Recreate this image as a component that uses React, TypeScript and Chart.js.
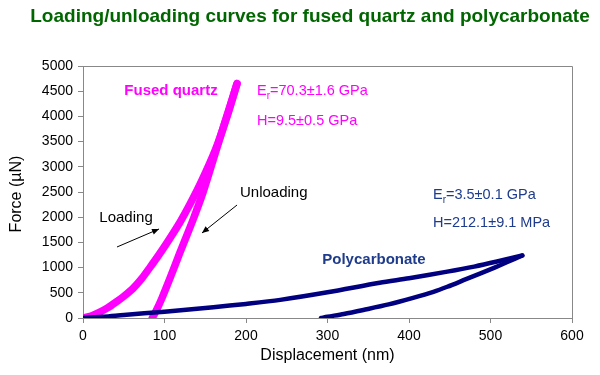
import React, { useEffect, useRef } from "react";
import { Chart, registerables } from "chart.js";

Chart.register(...registerables);

const TITLE = "Loading/unloading curves for fused quartz and polycarbonate";
const X_TITLE = "Displacement (nm)";
const Y_TITLE = "Force (\u00b5N)";

// Fused quartz (displacement nm, force µN)
const quartzLoadX = [0, 10, 20, 30, 40, 50, 61, 72, 82, 93, 103, 119, 131, 145, 162, 176, 189];
const quartzLoadY = [0, 40, 110, 200, 310, 430, 580, 780, 1000, 1250, 1490, 1900, 2250, 2700, 3320, 3960, 4650];
const quartzUnloadX = [85, 90, 97, 107, 119, 135, 147, 160, 174, 189];
const quartzUnloadY = [0, 150, 400, 800, 1300, 1950, 2480, 3150, 3880, 4650];

// Polycarbonate
const polyLoadX = [0, 25, 50, 100, 160, 200, 242, 300, 364, 400, 447, 480, 508, 539];
const polyLoadY = [0, 25, 60, 125, 215, 280, 360, 510, 700, 790, 920, 1020, 1120, 1240];
const polyUnloadX = [292, 300, 320, 344, 375, 405, 430, 447, 470, 487, 505, 520, 539];
const polyUnloadY = [0, 25, 80, 160, 270, 400, 520, 620, 770, 880, 1000, 1105, 1240];

const FONT = "'Liberation Sans', Arial, sans-serif";
const MAGENTA = "#ff00ff";
const NAVY = "#000080";
const NAVY_TEXT = "#1f3c8c";
const GREEN = "#006600";

const pts = (xs: number[], ys: number[]) => xs.map((x, i) => ({ x, y: ys[i] }));

const overlay = {
  id: "overlay",
  afterDraw(chart: any) {
    const { ctx, chartArea: a, scales } = chart;
    const X = (v: number) => scales.x.getPixelForValue(v);
    const Y = (v: number) => scales.y.getPixelForValue(v);
    ctx.save();
    // border box
    ctx.strokeStyle = "#888";
    ctx.lineWidth = 1;
    ctx.beginPath();
    ctx.moveTo(a.left, a.top + 0.5);
    ctx.lineTo(a.right + 0.5, a.top + 0.5);
    ctx.lineTo(a.right + 0.5, a.bottom);
    ctx.stroke();

    // title
    ctx.fillStyle = GREEN;
    ctx.font = `bold 19px ${FONT}`;
    ctx.textAlign = "center";
    ctx.textBaseline = "middle";
    ctx.fillText(TITLE, 310, 17);

    // axis titles
    ctx.fillStyle = "#000";
    ctx.font = `16px ${FONT}`;
    ctx.fillText(X_TITLE, (a.left + a.right) / 2, 356);
    ctx.save();
    ctx.translate(17, (a.top + a.bottom) / 2 + 2);
    ctx.rotate(-Math.PI / 2);
    ctx.fillText(Y_TITLE, 0, 0);
    ctx.restore();

    const er = (x: number, y: number, rest: string, color: string) => {
      ctx.fillStyle = color;
      ctx.textAlign = "left";
      ctx.font = `14.5px ${FONT}`;
      let px = X(x);
      const py = Y(y);
      ctx.fillText("E", px, py);
      px += ctx.measureText("E").width;
      ctx.font = `10px ${FONT}`;
      ctx.fillText("r", px, py + 5);
      px += ctx.measureText("r").width;
      ctx.font = `14.5px ${FONT}`;
      ctx.fillText(rest, px, py);
    };
    const txt = (s: string, x: number, y: number, color: string, font: string, align: CanvasTextAlign) => {
      ctx.fillStyle = color;
      ctx.font = font;
      ctx.textAlign = align;
      ctx.fillText(s, X(x), Y(y));
    };

    txt("Fused quartz", 108, 4500, MAGENTA, `bold 15px ${FONT}`, "center");
    er(213.5, 4500, "=70.3\u00b11.6 GPa", MAGENTA);
    txt("H=9.5\u00b10.5 GPa", 213.5, 3910, MAGENTA, `14.5px ${FONT}`, "left");
    txt("Loading", 52.8, 1984, "#000", `15px ${FONT}`, "center");
    txt("Unloading", 192.6, 2480, "#000", `15px ${FONT}`, "left");
    er(429.4, 2440, "=3.5\u00b10.1 GPa", NAVY_TEXT);
    txt("H=212.1\u00b19.1 MPa", 429.4, 1885, NAVY_TEXT, `14.5px ${FONT}`, "left");
    txt("Polycarbonate", 357, 1151, NAVY_TEXT, `bold 15px ${FONT}`, "center");

    const arrow = (x1: number, y1: number, x2: number, y2: number) => {
      const ax = X(x1), ay = Y(y1), bx = X(x2), by = Y(y2);
      ctx.strokeStyle = "#000";
      ctx.fillStyle = "#000";
      ctx.lineWidth = 1;
      ctx.beginPath();
      ctx.moveTo(ax, ay);
      ctx.lineTo(bx, by);
      ctx.stroke();
      const ang = Math.atan2(by - ay, bx - ax);
      const L = 7, W = 3;
      ctx.beginPath();
      ctx.moveTo(bx, by);
      ctx.lineTo(bx - L * Math.cos(ang) + W * Math.sin(ang), by - L * Math.sin(ang) - W * Math.cos(ang));
      ctx.lineTo(bx - L * Math.cos(ang) - W * Math.sin(ang), by - L * Math.sin(ang) + W * Math.cos(ang));
      ctx.closePath();
      ctx.fill();
    };
    arrow(41.7, 1409, 93.3, 1766);
    arrow(189, 2242, 146, 1687);
    ctx.restore();
  },
};

export default function App() {
  const ref = useRef<HTMLCanvasElement>(null);
  useEffect(() => {
    const line = (data: any, color: string, w: number) => ({
      data,
      showLine: true,
      borderColor: color,
      backgroundColor: color,
      borderWidth: w,
      pointRadius: 0,
      tension: 0.3,
      borderCapStyle: "round" as const,
      borderJoinStyle: "round" as const,
    });
    const chart = new Chart(ref.current!, {
      type: "scatter",
      data: {
        datasets: [
          line(pts(polyLoadX, polyLoadY), NAVY, 4.5),
          line(pts(polyUnloadX, polyUnloadY), NAVY, 4.5),
          line(pts(quartzLoadX, quartzLoadY), MAGENTA, 7.5),
          line(pts(quartzUnloadX, quartzUnloadY), MAGENTA, 7.5),
        ],
      },
      options: {
        responsive: false,
        animation: false,
        layout: { padding: { left: 0, right: 28, top: 66, bottom: 0 } },
        plugins: { legend: { display: false }, tooltip: { enabled: false }, title: { display: false } },
        scales: {
          x: {
            type: "linear",
            min: 0,
            max: 600,
            afterFit: (s: any) => { s.height = 57; },
            ticks: { stepSize: 100, color: "#000", font: { family: FONT, size: 14 }, padding: 5, maxRotation: 0, callback: (v: any) => String(v) },
            grid: { display: true, drawOnChartArea: false, drawTicks: true, tickLength: 5, color: "#888" },
            border: { display: true, color: "#888" },
          },
          y: {
            type: "linear",
            min: 0,
            max: 5000,
            afterFit: (s: any) => { s.width = 83; },
            ticks: { stepSize: 500, color: "#000", font: { family: FONT, size: 14 }, padding: 5, callback: (v: any) => String(v) },
            grid: { display: true, drawOnChartArea: false, drawTicks: true, tickLength: 5, color: "#888" },
            border: { display: true, color: "#888" },
          },
        },
      },
      plugins: [overlay],
    });
    return () => chart.destroy();
  }, []);
  return (
    <div style={{ position: "absolute", left: 0, top: 0, width: 600, height: 375, background: "#fff" }}>
      <canvas ref={ref} width={600} height={375} style={{ display: "block" }} />
    </div>
  );
}
